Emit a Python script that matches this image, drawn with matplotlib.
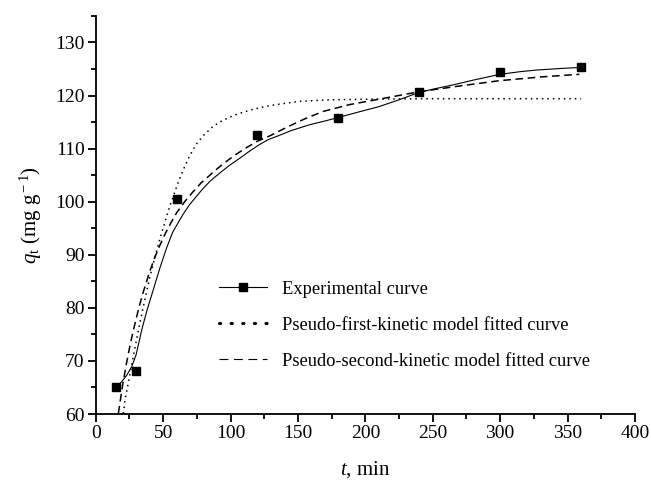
import matplotlib
matplotlib.use('Agg')
import matplotlib.pyplot as plt
from matplotlib.lines import Line2D
from matplotlib.ticker import MultipleLocator

# experimental points
t_exp = [15, 30, 60, 120, 180, 240, 300, 360]
q_exp = [65.0, 68.1, 100.6, 112.5, 115.8, 120.7, 124.4, 125.3]

t_smooth = [15, 19.3, 23, 26.7, 30, 34.1, 38, 42.7, 47.6, 52.6, 57, 62.4, 66, 69.5, 75,
            79.7, 85, 92, 99, 106.9, 114, 121.7, 128, 135.3, 145, 158.7, 170, 179,
            195, 210, 225, 240, 252, 265, 280, 300, 315, 327, 345, 360]
q_smooth = [65.0, 66.1, 67.3, 68.9, 71.2, 75.8, 79.5, 83.4, 87.5, 91.3, 94.2, 96.6,
            98.1, 99.4, 101.1, 102.5, 103.9, 105.4, 106.8, 108.2, 109.5, 110.8, 111.7,
            112.4, 113.4, 114.5, 115.2, 115.8, 116.9, 117.9, 119.2, 120.6, 121.3,
            122.0, 122.9, 124.0, 124.5, 124.8, 125.1, 125.3]

# pseudo-first-order fitted curve
t_pfo = [20.5, 21.7, 25.4, 28, 32, 35.3, 40, 44, 47.6, 51.3, 54, 57.5, 61, 64.9, 70,
         74.8, 80, 87.1, 94, 101.9, 110, 116.7, 125, 134, 151, 174, 200, 240, 300, 360]
q_pfo = [60.1, 62.6, 67.5, 71.0, 76.2, 80.2, 85.6, 89.6, 93.0, 96.1, 98.4, 101.0,
         103.5, 106.0, 108.8, 110.9, 112.5, 114.2, 115.3, 116.2, 116.9, 117.4, 117.9,
         118.3, 118.9, 119.2, 119.3, 119.4, 119.4, 119.4]

# pseudo-second-order fitted curve
t_pso = [16.8, 20, 23, 26, 29.1, 32, 35.3, 40, 44, 47.6, 52, 56, 60, 66, 72.3, 78,
         84.7, 91, 97, 104, 111.9, 120, 129.1, 135.3, 144, 155, 168.6, 188.4, 210,
         239.5, 270, 299.5, 330, 358.7]
q_pso = [60.1, 65.5, 69.8, 73.6, 77.0, 80.0, 83.0, 86.8, 89.6, 91.8, 94.2, 96.1, 97.9,
         100.0, 101.9, 103.5, 105.0, 106.4, 107.6, 108.9, 110.2, 111.4, 112.4, 113.2,
         114.3, 115.6, 117.0, 118.3, 119.3, 120.7, 121.8, 122.8, 123.5, 124.0]

plt.rcParams.update({
    'font.family': 'Liberation Serif',
    'mathtext.fontset': 'custom',
    'mathtext.rm': 'Liberation Serif',
    'mathtext.it': 'Liberation Serif:italic',
    'font.size': 14,
})

fig = plt.figure(figsize=(6.51, 4.82), dpi=100)
ax = fig.add_axes([0.147, 0.141, 0.8284, 0.826])

ax.plot(t_smooth, q_smooth, color='black', lw=0.8, zorder=2)
ax.plot(t_exp, q_exp, ls='none', marker='s', ms=6.3, color='black', zorder=3)
ax.plot(t_pfo, q_pfo, color='black', lw=1.1, ls=(0, (1, 2.6)), zorder=2)
ax.plot(t_pso, q_pso, color='black', lw=1.1, ls=(0, (5, 3)), zorder=2)

ax.set_xlim(0, 400)
ax.set_ylim(60, 135)
ax.xaxis.set_major_locator(MultipleLocator(50))
ax.xaxis.set_minor_locator(MultipleLocator(25))
ax.yaxis.set_major_locator(MultipleLocator(10))
ax.yaxis.set_minor_locator(MultipleLocator(5))
ax.set_yticks([60, 70, 80, 90, 100, 110, 120, 130])

for side in ('top', 'right'):
    ax.spines[side].set_visible(False)
for side in ('left', 'bottom'):
    ax.spines[side].set_linewidth(1.3)
ax.tick_params(which='major', direction='out', length=6, width=1.3, labelsize=14, pad=2)
ax.tick_params(which='minor', direction='out', length=3.5, width=1.3)

ax.set_xlabel(r'$t$, min', fontsize=15, labelpad=12)
ax.set_ylabel(r'$q_{\rm t}$ (mg g$^{\rm -1}$)', fontsize=15, labelpad=8)

handles = [
    Line2D([], [], color='black', lw=0.8, marker='s', ms=5.5),
    Line2D([], [], color='black', lw=2.2, ls=(0, (0.4, 3.4)), dash_capstyle='round'),
    Line2D([], [], color='black', lw=0.8, ls=(0, (8, 5))),
]
labels = ['Experimental curve',
          'Pseudo-first-kinetic model fitted curve',
          'Pseudo-second-kinetic model fitted curve']
ax.legend(handles, labels, loc='lower left', bbox_to_anchor=(0.198, 0.07),
          frameon=False, fontsize=13.3, handlelength=2.6, handletextpad=0.8,
          labelspacing=1.02)

fig.savefig('out.png', dpi=100)
